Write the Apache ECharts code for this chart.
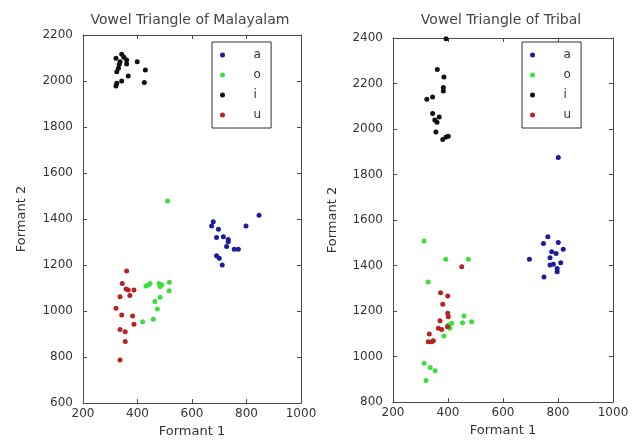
<!DOCTYPE html>
<html>
<head>
<meta charset="utf-8">
<script src="https://cdn.jsdelivr.net/npm/echarts@6/dist/echarts.min.js"></script>
<style>
  html, body { margin: 0; padding: 0; background: #fff; }
  #chart1 { width: 632px; height: 440px; }
</style>
</head>
<body>
<div id="chart1"></div>
<script>
// vowel names (legend)
const vowels = ['a', 'o', 'i', 'u'];
const vowelColors = ['#1c1c9c', '#3fdc3f', '#111111', '#b42424'];

// Malayalam: [Formant 1, Formant 2]
const malA = [[678, 1388], [672, 1370], [697, 1355], [690, 1320], [715, 1323], [733, 1311], [798, 1370],
  [846, 1416], [690, 1240], [700, 1229], [711, 1200], [727, 1280], [755, 1268], [770, 1268], [733, 1301]];
const malO = [[510, 1478], [440, 1113], [446, 1120], [431, 1109], [479, 1120], [483, 1106], [489, 1113],
  [517, 1125], [516, 1088], [464, 1041], [483, 1060], [473, 1009], [458, 964], [419, 953]];
const malI = [[342, 2116], [350, 2103], [360, 2091], [321, 2099], [336, 2084], [360, 2074], [330, 2055],
  [324, 2040], [366, 2022], [342, 2000], [324, 1990], [321, 1978], [399, 2084], [429, 2048], [425, 1993], [333, 2072]];
const malU = [[360, 1174], [344, 1120], [358, 1096], [366, 1091], [387, 1091], [336, 1062], [372, 1067],
  [321, 1012], [342, 983], [382, 978], [387, 942], [336, 920], [355, 910], [355, 867], [336, 787]];

// Tribal: [Formant 1, Formant 2]
const triA = [[801, 1875], [763, 1526], [747, 1497], [801, 1501], [777, 1460], [819, 1471], [696, 1427],
  [771, 1434], [793, 1453], [810, 1412], [783, 1405], [771, 1402], [797, 1387], [797, 1372], [749, 1350]];
const triO = [[313, 1508], [392, 1427], [474, 1427], [328, 1328], [458, 1178], [453, 1148], [486, 1153],
  [385, 1090], [401, 1138], [413, 1146], [407, 1124], [313, 970], [335, 952], [353, 937], [320, 894]];
const triI = [[393, 2397], [361, 2262], [385, 2229], [383, 2182], [383, 2167], [344, 2141], [323, 2131],
  [344, 2068], [368, 2053], [356, 1987], [381, 1954], [393, 1965], [401, 1968], [352, 2040], [360, 2030]];
const triU = [[450, 1394], [373, 1280], [399, 1266], [381, 1230], [399, 1190], [401, 1175], [371, 1157],
  [365, 1124], [377, 1119], [398, 1131], [332, 1099], [328, 1065], [341, 1065], [347, 1069]];

const titles = ['Vowel Triangle of Malayalam', 'Vowel Triangle of Tribal'];

function initChart() {
    const chart = echarts.init(document.getElementById('chart1'), null, { renderer: 'canvas' });
    const font = 'DejaVu Sans';
    const lineCol = '#4a4a4a';
    const plain = v => String(v);

    // x axes (bottom with labels, top ticks only)
    function xAx(grid, pos, withLabel) {
        return {
            gridIndex: grid, type: 'value', position: pos, min: 200, max: 1000, interval: 200,
            name: withLabel ? 'Formant 1' : '', nameLocation: 'middle', nameGap: 22,
            nameTextStyle: { fontFamily: font, fontSize: 13, color: '#333' },
            axisLine: { show: true, onZero: false, lineStyle: { color: lineCol, width: 1 } },
            axisTick: { show: true, inside: true, length: 4, lineStyle: { color: lineCol } },
            axisLabel: { show: withLabel, formatter: plain, fontFamily: font, fontSize: 12, color: '#333', margin: 5 },
            splitLine: { show: false }
        };
    }
    function yAx(grid, pos, withLabel, min, max, gap) {
        return {
            gridIndex: grid, type: 'value', position: pos, min: min, max: max, interval: 200,
            name: withLabel ? 'Formant 2' : '', nameLocation: 'middle', nameGap: gap, nameRotate: 90,
            nameTextStyle: { fontFamily: font, fontSize: 13, color: '#333' },
            axisLine: { show: true, onZero: false, lineStyle: { color: lineCol, width: 1 } },
            axisTick: { show: true, inside: true, length: 4, lineStyle: { color: lineCol } },
            axisLabel: { show: withLabel, formatter: plain, fontFamily: font, fontSize: 12, color: '#333', margin: 10 },
            splitLine: { show: false }
        };
    }

    const groups = [[malA, malO, malI, malU], [triA, triO, triI, triU]];
    const series = [];
    groups.forEach((g, gi) => {
        g.forEach((pts, vi) => {
            series.push({
                type: 'scatter',
                name: vowels[vi],
                xAxisIndex: gi,
                yAxisIndex: gi,
                data: pts,
                symbol: 'circle',
                symbolSize: 5,
                itemStyle: { color: vowelColors[vi], opacity: 1 }
            });
        });
    });

    function legendAt(left, top) {
        return {
            data: vowels,
            orient: 'vertical',
            left: left, top: top,
            itemWidth: 52, itemHeight: 5, itemGap: 0,
            padding: [3, 10, 3, 8],
            icon: 'circle',
            borderColor: '#333', borderWidth: 1,
            backgroundColor: '#fff',
            selectedMode: false,
            textStyle: { fontFamily: font, fontSize: 12, color: '#333', lineHeight: 20 }
        };
    }

    const option = {
        animation: false,
        color: vowelColors,
        title: [
            { text: titles[0], left: 190, top: 13, textAlign: 'center', padding: 0,
              textStyle: { fontFamily: font, fontSize: 14, fontWeight: 'normal', color: '#444' } },
            { text: titles[1], left: 501, top: 13, textAlign: 'center', padding: 0,
              textStyle: { fontFamily: font, fontSize: 14, fontWeight: 'normal', color: '#444' } }
        ],
        grid: [
            { left: 83, top: 35, width: 218, height: 368, outerBoundsMode: 'none' },
            { left: 393, top: 38, width: 220, height: 364, outerBoundsMode: 'none' }
        ],
        xAxis: [
            xAx(0, 'bottom', true), xAx(1, 'bottom', true),
            xAx(0, 'top', false), xAx(1, 'top', false)
        ],
        yAxis: [
            yAx(0, 'left', true, 600, 2200, 55), yAx(1, 'left', true, 800, 2400, 54),
            yAx(0, 'right', false, 600, 2200, 0), yAx(1, 'right', false, 800, 2400, 0)
        ],
        legend: [legendAt(212, 42), legendAt(522, 42)],
        series: series
    };

    chart.setOption(option);
}

window.addEventListener('load', initChart);
</script>
</body>
</html>
